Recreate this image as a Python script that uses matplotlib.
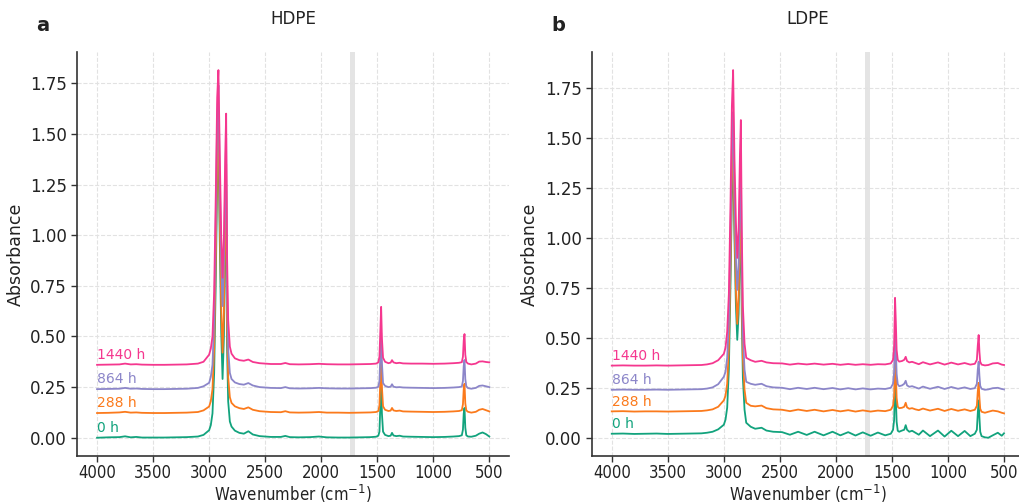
import matplotlib
matplotlib.use("Agg")
import matplotlib.pyplot as plt
from matplotlib import font_manager

# ---------------- data ----------------
series_labels = ["0 h", "288 h", "864 h", "1440 h"]
series_colors = ["#12a37d", "#fb7a1c", "#8c86c9", "#f5378f"]
panel_titles = ["HDPE", "LDPE"]
panel_letters = ["a", "b"]
label_heights = [0.0, 0.123, 0.242, 0.362]          # baseline at 4000 cm-1 (HDPE)
label_heights_b = [0.02, 0.132, 0.240, 0.361]       # baseline at 4000 cm-1 (LDPE)

# HDPE wavenumbers
wn_hdpe = [4000, 3900, 3800, 3750, 3700, 3650, 3600, 3500, 3400, 3300,
           3200, 3100, 3050, 3000, 2985, 2970, 2955, 2940, 2928, 2917,
           2905, 2892, 2880, 2868, 2856, 2848, 2840, 2830, 2815, 2800,
           2770, 2730, 2690, 2650, 2610, 2550, 2450, 2360, 2320, 2280,
           2200, 2100, 2020, 1950, 1850, 1750, 1650, 1560, 1510, 1490,
           1480, 1472, 1465, 1458, 1448, 1430, 1400, 1380, 1368, 1355,
           1330, 1300, 1270, 1200, 1100, 1000, 900, 820, 770, 745,
           735, 728, 721, 714, 705, 690, 660, 620, 590, 560,
           530, 500]

hdpe_0h = [0.000, 0.002, 0.003, 0.007, 0.002, 0.004, 0.001, 0.001, 0.001, 0.002,
           0.003, 0.006, 0.014, 0.037, 0.062, 0.12, 0.32, 0.80, 1.28, 1.45,
           0.98, 0.52, 0.29, 0.50, 1.02, 1.25, 0.45, 0.18, 0.08, 0.055,
           0.035, 0.024, 0.020, 0.032, 0.016, 0.008, 0.004, 0.004, 0.009, 0.003,
           0.002, 0.003, 0.006, 0.002, 0.001, 0.001, 0.002, 0.003, 0.005, 0.010,
           0.030, 0.16, 0.28, 0.12, 0.030, 0.014, 0.008, 0.010, 0.024, 0.011,
           0.008, 0.010, 0.006, 0.005, 0.004, 0.003, 0.004, 0.006, 0.008, 0.012,
           0.04, 0.12, 0.147, 0.05, 0.012, 0.006, 0.005, 0.010, 0.020, 0.026,
           0.018, 0.006]

hdpe_288h = [0.122, 0.123, 0.125, 0.128, 0.124, 0.125, 0.123, 0.122, 0.122, 0.123,
             0.124, 0.127, 0.135, 0.154, 0.18, 0.24, 0.44, 0.92, 1.38, 1.55,
             1.08, 0.64, 0.42, 0.62, 1.12, 1.35, 0.57, 0.30, 0.20, 0.172,
             0.155, 0.146, 0.142, 0.150, 0.138, 0.131, 0.127, 0.126, 0.131, 0.125,
             0.124, 0.125, 0.127, 0.124, 0.124, 0.123, 0.124, 0.125, 0.127, 0.132,
             0.16, 0.29, 0.405, 0.25, 0.155, 0.138, 0.132, 0.134, 0.147, 0.135,
             0.132, 0.134, 0.130, 0.129, 0.128, 0.127, 0.128, 0.130, 0.132, 0.136,
             0.165, 0.24, 0.266, 0.17, 0.135, 0.128, 0.124, 0.128, 0.138, 0.142,
             0.136, 0.130]

hdpe_864h = [0.240, 0.241, 0.242, 0.246, 0.242, 0.243, 0.241, 0.240, 0.240, 0.241,
             0.242, 0.246, 0.254, 0.271, 0.30, 0.36, 0.58, 1.10, 1.58, 1.74,
             1.28, 0.87, 0.65, 0.86, 1.27, 1.48, 0.75, 0.44, 0.32, 0.29,
             0.273, 0.265, 0.262, 0.270, 0.258, 0.250, 0.246, 0.245, 0.250, 0.244,
             0.243, 0.244, 0.246, 0.244, 0.243, 0.243, 0.244, 0.245, 0.247, 0.252,
             0.28, 0.41, 0.517, 0.37, 0.27, 0.256, 0.250, 0.252, 0.264, 0.252,
             0.249, 0.250, 0.248, 0.247, 0.246, 0.245, 0.246, 0.248, 0.250, 0.253,
             0.28, 0.355, 0.384, 0.29, 0.254, 0.245, 0.242, 0.246, 0.256, 0.258,
             0.254, 0.250]

hdpe_1440h = [0.360, 0.361, 0.362, 0.366, 0.362, 0.363, 0.361, 0.360, 0.360, 0.361,
              0.362, 0.366, 0.375, 0.41, 0.44, 0.50, 0.72, 1.22, 1.68, 1.815,
              1.40, 1.00, 0.79, 0.99, 1.40, 1.60, 0.90, 0.58, 0.45, 0.415,
              0.392, 0.383, 0.380, 0.386, 0.374, 0.368, 0.364, 0.364, 0.369, 0.363,
              0.362, 0.363, 0.365, 0.363, 0.362, 0.362, 0.363, 0.364, 0.366, 0.372,
              0.40, 0.53, 0.646, 0.49, 0.395, 0.375, 0.368, 0.371, 0.383, 0.372,
              0.368, 0.370, 0.367, 0.366, 0.366, 0.365, 0.366, 0.368, 0.370, 0.373,
              0.40, 0.48, 0.512, 0.41, 0.374, 0.366, 0.362, 0.366, 0.376, 0.377,
              0.374, 0.372]

# LDPE wavenumbers
wn_ldpe = [4000, 3900, 3800, 3700, 3600, 3500, 3400, 3300, 3200, 3150,
           3100, 3050, 3000, 2985, 2970, 2955, 2940, 2928, 2917, 2905,
           2892, 2880, 2868, 2856, 2848, 2840, 2830, 2815, 2800, 2760,
           2720, 2663, 2620, 2560, 2480, 2410, 2337, 2260, 2190, 2110,
           2030, 1960, 1890, 1825, 1760, 1690, 1625, 1560, 1510, 1490,
           1480, 1472, 1465, 1458, 1448, 1435, 1410, 1390, 1377, 1365,
           1345, 1320, 1290, 1260, 1223, 1160, 1089, 1030, 970, 910,
           851, 800, 760, 742, 734, 726, 719, 712, 700, 670,
           640, 600, 555, 520, 500]

ldpe_0h = [0.020, 0.021, 0.019, 0.020, 0.021, 0.019, 0.020, 0.021, 0.022, 0.025,
           0.030, 0.042, 0.065, 0.09, 0.15, 0.34, 0.78, 1.22, 1.42, 1.00,
           0.66, 0.49, 0.62, 0.95, 1.10, 0.62, 0.30, 0.14, 0.075, 0.055,
           0.045, 0.050, 0.036, 0.030, 0.028, 0.015, 0.030, 0.014, 0.030, 0.012,
           0.030, 0.012, 0.028, 0.011, 0.027, 0.010, 0.026, 0.012, 0.020, 0.040,
           0.09, 0.30, 0.20, 0.08, 0.035, 0.030, 0.036, 0.040, 0.063, 0.040,
           0.030, 0.035, 0.025, 0.015, 0.036, 0.008, 0.036, 0.006, 0.035, 0.008,
           0.034, 0.008, 0.020, 0.040, 0.12, 0.187, 0.10, 0.030, 0.008, 0.002,
           0.000, 0.012, 0.025, 0.010, 0.022]

ldpe_288h = [0.132, 0.133, 0.131, 0.132, 0.132, 0.131, 0.132, 0.133, 0.134, 0.137,
             0.142, 0.155, 0.187, 0.21, 0.27, 0.45, 0.88, 1.32, 1.50, 1.08,
             0.74, 0.57, 0.70, 1.05, 1.22, 0.72, 0.40, 0.24, 0.175, 0.160,
             0.157, 0.161, 0.148, 0.142, 0.140, 0.133, 0.141, 0.134, 0.140, 0.132,
             0.139, 0.132, 0.138, 0.131, 0.137, 0.131, 0.136, 0.133, 0.140, 0.160,
             0.21, 0.43, 0.33, 0.20, 0.155, 0.148, 0.150, 0.155, 0.175, 0.152,
             0.145, 0.148, 0.142, 0.138, 0.146, 0.136, 0.145, 0.134, 0.144, 0.135,
             0.142, 0.134, 0.140, 0.160, 0.23, 0.275, 0.20, 0.145, 0.130, 0.125,
             0.130, 0.136, 0.132, 0.125, 0.122]

ldpe_864h = [0.240, 0.241, 0.240, 0.240, 0.241, 0.240, 0.241, 0.242, 0.243, 0.246,
             0.252, 0.268, 0.305, 0.33, 0.40, 0.58, 1.02, 1.46, 1.63, 1.22,
             0.90, 0.74, 0.86, 1.22, 1.38, 0.88, 0.52, 0.34, 0.28, 0.270,
             0.265, 0.270, 0.258, 0.252, 0.250, 0.243, 0.250, 0.244, 0.250, 0.243,
             0.249, 0.242, 0.248, 0.242, 0.247, 0.242, 0.246, 0.244, 0.250, 0.270,
             0.33, 0.555, 0.45, 0.32, 0.268, 0.258, 0.262, 0.270, 0.285, 0.262,
             0.255, 0.258, 0.252, 0.246, 0.256, 0.245, 0.255, 0.244, 0.254, 0.245,
             0.252, 0.244, 0.248, 0.270, 0.34, 0.381, 0.31, 0.260, 0.245, 0.240,
             0.242, 0.248, 0.250, 0.244, 0.242]

ldpe_1440h = [0.361, 0.362, 0.361, 0.361, 0.362, 0.361, 0.362, 0.363, 0.364, 0.367,
              0.373, 0.388, 0.42, 0.45, 0.53, 0.72, 1.18, 1.66, 1.84, 1.40,
              1.08, 0.90, 1.04, 1.42, 1.59, 1.05, 0.66, 0.47, 0.40, 0.388,
              0.380, 0.385, 0.377, 0.373, 0.372, 0.366, 0.371, 0.367, 0.371, 0.366,
              0.370, 0.365, 0.369, 0.365, 0.368, 0.365, 0.368, 0.367, 0.372, 0.390,
              0.46, 0.70, 0.58, 0.44, 0.390, 0.381, 0.384, 0.390, 0.405, 0.384,
              0.377, 0.380, 0.374, 0.368, 0.378, 0.367, 0.377, 0.366, 0.376, 0.367,
              0.374, 0.366, 0.370, 0.390, 0.46, 0.514, 0.43, 0.380, 0.366, 0.362,
              0.364, 0.372, 0.374, 0.366, 0.364]

carbonyl_band = (1695, 1742)
x_ticks = [4000, 3500, 3000, 2500, 2000, 1500, 1000, 500]
y_ticks = [0.00, 0.25, 0.50, 0.75, 1.00, 1.25, 1.50, 1.75]

# ---------------- figure ----------------
plt.rcParams['font.family'] = ['DejaVu Sans']

# condensed face for the x axis texts, if one is installed
cond_fp = None
for f in font_manager.fontManager.ttflist:
    if f.name == 'DejaVu Sans' and f.stretch == 'condensed' and f.style == 'normal' \
            and f.weight in (400, 'normal', 'regular', 'book'):
        cond_fp = font_manager.FontProperties(fname=f.fname)
        break
if cond_fp is None:
    for f in font_manager.fontManager.ttflist:
        if 'Narrow' in f.name or 'Condensed' in f.name:
            cond_fp = font_manager.FontProperties(fname=f.fname)
            break

fig = plt.figure(figsize=(10.19, 5.04), dpi=100)
ax_a = fig.add_axes([0.0760, 0.0950, 0.4234, 0.8024])
ax_b = fig.add_axes([0.5811, 0.0950, 0.4234, 0.8024])

panels = [
    (ax_a, wn_hdpe, [hdpe_0h, hdpe_288h, hdpe_864h, hdpe_1440h], label_heights),
    (ax_b, wn_ldpe, [ldpe_0h, ldpe_288h, ldpe_864h, ldpe_1440h], label_heights_b),
]

for i, (ax, wn, ys, lh) in enumerate(panels):
    ax.axvspan(*carbonyl_band, color='#e4e4e4', zorder=0, lw=0)
    for y, c in zip(ys, series_colors):
        ax.plot(wn, y, color=c, lw=1.3, zorder=2)
    for lab, c, h in zip(series_labels, series_colors, lh):
        ax.text(4000, h + 0.012, lab, color=c, fontsize=10, ha='left', va='bottom', zorder=3)
    ax.invert_xaxis()
    ax.set_xticks(x_ticks)
    ax.set_yticks(y_ticks)
    ax.set_yticklabels([f"{v:.2f}" for v in y_ticks])
    ax.tick_params(axis='both', labelsize=12, direction='out', length=4, width=1,
                   color='#333333', labelcolor='#222222')
    ax.tick_params(axis='x', pad=2)
    if cond_fp is not None:
        for lbl in ax.get_xticklabels():
            lbl.set_fontproperties(cond_fp)
            lbl.set_fontsize(12)
    ax.grid(True, ls='--', lw=0.8, color='#e2e2e2', zorder=0)
    ax.set_axisbelow(True)
    for s in ['top', 'right']:
        ax.spines[s].set_visible(False)
    for s in ['left', 'bottom']:
        ax.spines[s].set_color('#333333')
        ax.spines[s].set_linewidth(1.2)
    ax.set_ylabel("Absorbance", fontsize=12.5, color='#222222')
    xl = ax.set_xlabel("Wavenumber (cm$^{-1}$)", fontsize=12, color='#222222', labelpad=0)
    if cond_fp is not None:
        xl.set_fontproperties(cond_fp)
        xl.set_fontsize(12)
    ax.set_title(panel_titles[i], fontsize=12, color='#222222', pad=20)
    ax.text(-0.095, 1.065, panel_letters[i], transform=ax.transAxes, fontsize=14,
            fontweight='bold', color='#222222', ha='left', va='center')

fig.savefig("out.png", dpi=100)
